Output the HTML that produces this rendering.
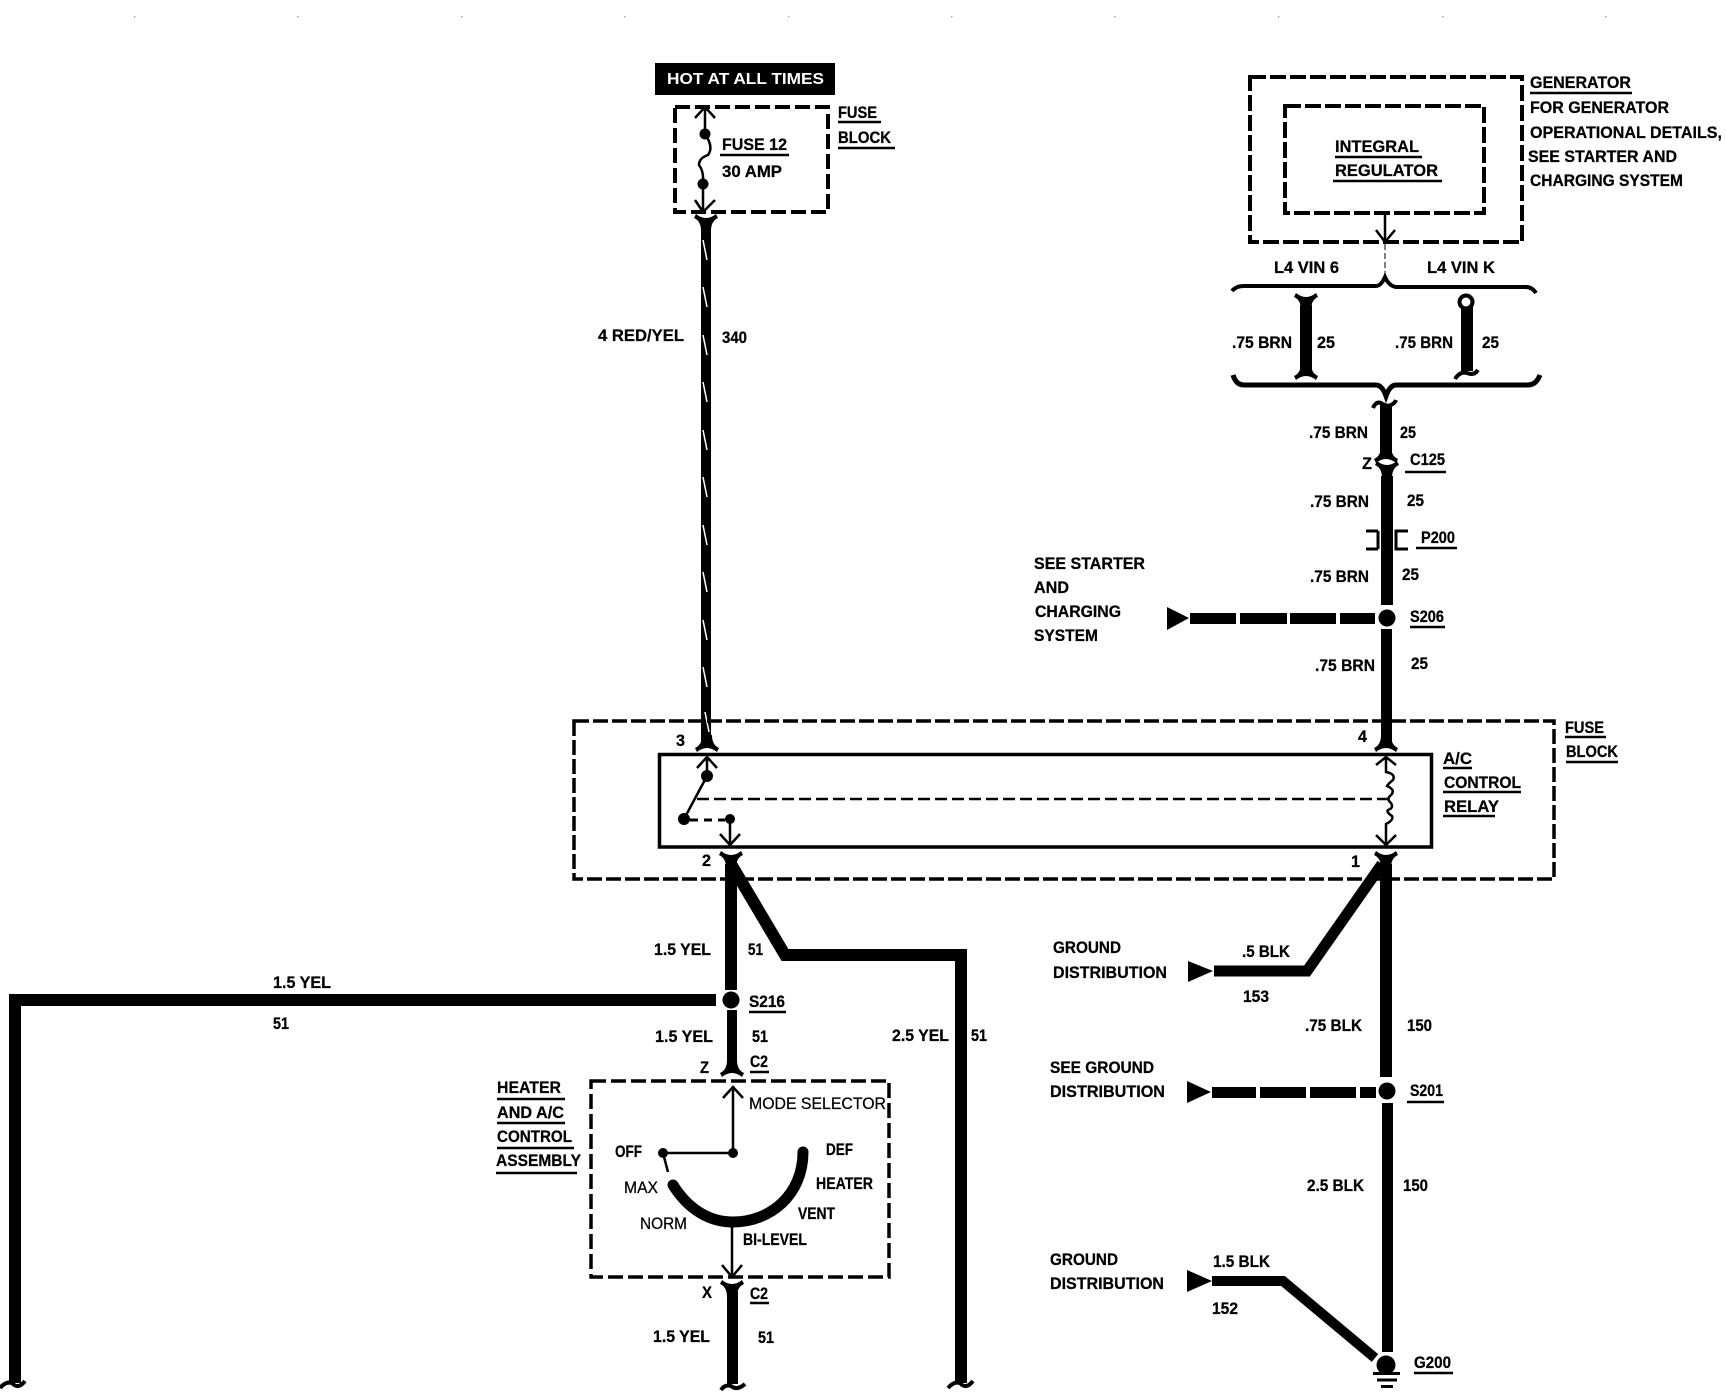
<!DOCTYPE html>
<html><head><meta charset="utf-8"><title>A/C Control Relay Wiring Diagram</title>
<style>
html,body{margin:0;padding:0;background:#fff}
svg{display:block}
text{font-family:"Liberation Sans",sans-serif;font-weight:700;font-size:16.5px;fill:#000;stroke:#000;stroke-width:.25px}
.r{font-weight:400}
.ln{fill:none;stroke:#000}
</style></head><body>
<svg width="1726" height="1392" viewBox="0 0 1726 1392" xmlns="http://www.w3.org/2000/svg">
<rect width="1726" height="1392" fill="#fff"/>
<defs>
<path id="ft" d="M-12 -6 Q-5 -3 -5 7 L5 7 Q5 -3 12 -6 L10 -10 Q0 -2 -10 -10 Z"/>
<path id="fb" d="M-12 6 Q-5 3 -5 -7 L5 -7 Q5 3 12 6 L10 10 Q0 2 -10 10 Z"/>
</defs>

<!-- top registration specks -->
<g fill="#aaa"><rect x="134" y="16" width="1.5" height="1.5"/><rect x="297" y="16" width="1.5" height="1.5"/><rect x="461" y="16" width="1.5" height="1.5"/><rect x="624" y="16" width="1.5" height="1.5"/><rect x="788" y="16" width="1.5" height="1.5"/><rect x="951" y="16" width="1.5" height="1.5"/><rect x="1114" y="16" width="1.5" height="1.5"/><rect x="1278" y="16" width="1.5" height="1.5"/><rect x="1442" y="16" width="1.5" height="1.5"/><rect x="1605" y="16" width="1.5" height="1.5"/></g>

<!-- HOT box -->
<rect x="655" y="63" width="180" height="32" fill="#000"/>
<text x="667" y="84" textLength="157" lengthAdjust="spacingAndGlyphs" style="fill:#fff;stroke:none;font-size:16px">HOT AT ALL TIMES</text>

<!-- Fuse box -->
<rect x="675" y="107" width="153" height="105" class="ln" stroke-width="4" stroke-dasharray="15 5"/>
<path d="M695 118 L705 107 L715 118 M705 107 V134 Q714 147 708 155 Q699 158 699 165 Q704 171 703 184 V212 M695 200 L703 212 L715 200" class="ln" stroke-width="2.5"/>
<circle cx="705" cy="134" r="5.5"/><circle cx="703" cy="184" r="5.5"/>
<use href="#ft" x="706" y="224"/>
<rect x="701" y="226" width="10" height="516"/>
<g class="ln" style="stroke:#fff" stroke-width="1.5">
<path d="M703 240 L707 260M703 287 L707 307M703 335 L707 355M703 382 L707 402M703 430 L707 450M703 477 L707 497M703 525 L707 545M703 572 L707 592M703 620 L707 640M703 667 L707 687M705 712 L709 732"/>
</g>
<use href="#fb" x="707" y="742"/>

<!-- Generator -->
<rect x="1250" y="77" width="272" height="165" class="ln" stroke-width="4" stroke-dasharray="16 4"/>
<rect x="1285" y="106" width="199" height="107" class="ln" stroke-width="4" stroke-dasharray="16 4"/>
<path d="M1385 213 V242 M1376 230 L1385 242 L1395 230" class="ln" stroke-width="2.5"/>
<path d="M1385 244 V277" class="ln" stroke-width="1" stroke-dasharray="6 3"/>
<path d="M1232 291 Q1236 286 1244 286 H1376 Q1381 286 1385 277 Q1389 286 1396 287 H1526 Q1532 287 1536 293" class="ln" stroke-width="4"/>
<path d="M1233 375 Q1236 385 1244 385 H1376 Q1382 385 1386 396 Q1390 385 1396 385 H1528 Q1536 385 1540 375" class="ln" stroke-width="5"/>
<use href="#ft" x="1306" y="303"/>
<rect x="1300" y="305" width="12" height="66"/>
<use href="#fb" x="1306" y="370"/>
<rect x="1461" y="305" width="12" height="66"/>
<circle cx="1466" cy="302" r="6.5" fill="#fff" stroke="#000" stroke-width="4"/>
<path d="M1455 379 Q1460 371 1467 373 Q1474 376 1478 370" class="ln" stroke-width="4"/>
<path d="M1373 408 Q1376 401 1381 403 Q1387 407 1391 405 Q1395 403 1396 400" class="ln" stroke-width="4"/>
<rect x="1380" y="405" width="12" height="47"/>
<use href="#fb" x="1386" y="453"/>
<use href="#ft" x="1387" y="471"/>
<rect x="1381" y="476" width="12" height="129"/>
<path d="M1378 531 H1366 M1378 531 V549 M1378 549 H1366 M1408 531 H1396 V549 H1408" class="ln" stroke-width="3"/>
<circle cx="1387" cy="618" r="8.5"/>
<rect x="1381" y="629" width="11" height="113"/>
<use href="#fb" x="1386" y="742"/>

<!-- S206 feed -->
<path d="M1167 607 V630 L1189 618 Z"/>
<rect x="1190" y="613" width="46" height="11"/><rect x="1240" y="613" width="47" height="11"/><rect x="1290" y="613" width="46" height="11"/><rect x="1340" y="613" width="35" height="11"/>

<!-- Fuse block & relay -->
<rect x="574" y="721" width="980" height="158" class="ln" stroke-width="3.5" stroke-dasharray="15 4"/>
<rect x="659.5" y="754.5" width="772" height="92.5" fill="#fff" stroke="#000" stroke-width="3.5"/>
<path d="M697 799 H1388" class="ln" stroke-width="2.5" stroke-dasharray="12 5"/>
<!-- switch -->
<path d="M697 768 L707 757 L717 768 M707 757 V776 L684 819" class="ln" stroke-width="2.5"/>
<circle cx="707" cy="776" r="6"/><circle cx="684" cy="819" r="6"/><circle cx="730" cy="819" r="5"/>
<path d="M690 820 H725" class="ln" stroke-width="3" stroke-dasharray="8 6"/>
<path d="M730 822 V845 M720 834 L730 845 L740 834" class="ln" stroke-width="2.5"/>
<!-- coil -->
<path d="M1376 765 L1386 757 L1396 765 M1386 757 V772 Q1396 774 1393 780 Q1388 784 1387 786 Q1396 790 1391 795 Q1386 799 1391 803 Q1394 808 1388 810 Q1386 812 1392 816 Q1394 820 1386 824 V845 M1376 835 L1386 845 L1396 835" class="ln" stroke-width="2.5"/>

<!-- below relay left -->
<use href="#ft" x="731" y="861"/>
<rect x="725" y="864" width="12" height="126"/>
<path d="M731 864 L785 955 H961 V1383" class="ln" stroke-width="12"/>
<circle cx="731" cy="1000" r="8.5"/>
<path d="M716 1000 H15 V1383" class="ln" stroke-width="12"/>
<path d="M0 1388 Q6 1381 12 1383 Q18 1390 25 1381" class="ln" stroke-width="4"/>
<path d="M948 1388 Q954 1381 960 1383 Q966 1390 973 1381" class="ln" stroke-width="4"/>
<rect x="727" y="1010" width="10" height="52"/>
<use href="#fb" x="732" y="1067"/>

<!-- Heater assembly -->
<rect x="591" y="1081" width="298" height="196" class="ln" stroke-width="3.5" stroke-dasharray="15 5"/>
<path d="M723 1098 L733 1087 L743 1098 M733 1087 V1153 H663 L668 1172" class="ln" stroke-width="2.5"/>
<circle cx="733" cy="1153" r="5"/><circle cx="663" cy="1153" r="5"/>
<path d="M673 1185 C690 1212 712 1222 733 1222 C770 1222 803 1195 803 1152" class="ln" stroke-width="11" stroke-linecap="round"/>
<path d="M732 1222 V1277 M722 1265 L732 1277 L742 1265" class="ln" stroke-width="2.5"/>
<use href="#ft" x="732" y="1290"/>
<rect x="727" y="1292" width="11" height="92"/>
<path d="M721 1390 Q725 1384 731 1386 Q737 1391 745 1384" class="ln" stroke-width="4"/>

<!-- Right side below relay -->
<use href="#ft" x="1386" y="861"/>
<rect x="1380" y="864" width="12" height="213"/>
<path d="M1382 864 L1307 971 H1214" class="ln" stroke-width="11"/>
<path d="M1188 961 V982 L1213 971 Z"/>
<circle cx="1387" cy="1091" r="8.5"/>
<path d="M1187 1081 V1103 L1211 1092 Z"/>
<rect x="1212" y="1087" width="44" height="11"/><rect x="1260" y="1087" width="46" height="11"/><rect x="1310" y="1087" width="46" height="11"/><rect x="1360" y="1087" width="16" height="11"/>
<rect x="1382" y="1103" width="11" height="249"/>
<path d="M1187 1270 V1292 L1212 1281 Z"/>
<path d="M1212 1281 H1283 L1375 1358" class="ln" stroke-width="10"/>
<circle cx="1386" cy="1365" r="9.5"/>
<path d="M1373 1373.500 H1400 M1377 1380 H1397 M1381 1386.500 H1393" class="ln" stroke-width="3"/>

<!-- underlines -->
<path d="M838 122 H881 M838 148 H895 M720 155 H789 M1530 93 H1632 M1335 157 H1422 M1333 181 H1442 M1405 472 H1446 M1416 548 H1457 M1410 627 H1445 M1443 768 H1472 M1443 792 H1521 M1443 816 H1495 M1565 737 H1606 M1566 762 H1618 M749 1012 H786 M750 1072 H769 M750 1303 H769 M497 1099 H565 M497 1123 H565 M497 1148 H574 M496 1173 H577 M1407 1102 H1444 M1414 1373 H1453" class="ln" stroke-width="2.5"/>

<!-- labels -->
<text x="838" y="118" textLength="39" lengthAdjust="spacingAndGlyphs">FUSE</text>
<text x="838" y="143" textLength="53" lengthAdjust="spacingAndGlyphs">BLOCK</text>
<text x="722" y="150" textLength="65" lengthAdjust="spacingAndGlyphs">FUSE 12</text>
<text x="722" y="177" textLength="60" lengthAdjust="spacingAndGlyphs">30 AMP</text>
<text x="598" y="341" textLength="86" lengthAdjust="spacingAndGlyphs">4 RED/YEL</text>
<text x="722" y="343" textLength="25" lengthAdjust="spacingAndGlyphs">340</text>

<text x="1530" y="88" textLength="101" lengthAdjust="spacingAndGlyphs">GENERATOR</text>
<text x="1530" y="113" textLength="139" lengthAdjust="spacingAndGlyphs">FOR GENERATOR</text>
<text x="1530" y="138" textLength="192" lengthAdjust="spacingAndGlyphs">OPERATIONAL DETAILS,</text>
<text x="1528" y="162" textLength="149" lengthAdjust="spacingAndGlyphs">SEE STARTER AND</text>
<text x="1530" y="186" textLength="153" lengthAdjust="spacingAndGlyphs">CHARGING SYSTEM</text>
<text x="1335" y="152" textLength="84" lengthAdjust="spacingAndGlyphs">INTEGRAL</text>
<text x="1335" y="176" textLength="103" lengthAdjust="spacingAndGlyphs">REGULATOR</text>
<text x="1274" y="273" textLength="65" lengthAdjust="spacingAndGlyphs">L4 VIN 6</text>
<text x="1427" y="273" textLength="68" lengthAdjust="spacingAndGlyphs">L4 VIN K</text>
<text x="1232" y="348" textLength="60" lengthAdjust="spacingAndGlyphs">.75 BRN</text>
<text x="1317" y="348" textLength="18" lengthAdjust="spacingAndGlyphs">25</text>
<text x="1395" y="348" textLength="58" lengthAdjust="spacingAndGlyphs">.75 BRN</text>
<text x="1482" y="348" textLength="17" lengthAdjust="spacingAndGlyphs">25</text>
<text x="1309" y="438" textLength="59" lengthAdjust="spacingAndGlyphs">.75 BRN</text>
<text x="1400" y="438" textLength="16" lengthAdjust="spacingAndGlyphs">25</text>
<text x="1362" y="469" textLength="10" lengthAdjust="spacingAndGlyphs">Z</text>
<text x="1410" y="465" textLength="35" lengthAdjust="spacingAndGlyphs">C125</text>
<text x="1310" y="507" textLength="59" lengthAdjust="spacingAndGlyphs">.75 BRN</text>
<text x="1407" y="506" textLength="17" lengthAdjust="spacingAndGlyphs">25</text>
<text x="1421" y="543" textLength="34" lengthAdjust="spacingAndGlyphs">P200</text>
<text x="1310" y="582" textLength="59" lengthAdjust="spacingAndGlyphs">.75 BRN</text>
<text x="1402" y="580" textLength="17" lengthAdjust="spacingAndGlyphs">25</text>
<text x="1034" y="569" textLength="111" lengthAdjust="spacingAndGlyphs">SEE STARTER</text>
<text x="1034" y="593" textLength="35" lengthAdjust="spacingAndGlyphs">AND</text>
<text x="1035" y="617" textLength="86" lengthAdjust="spacingAndGlyphs">CHARGING</text>
<text x="1034" y="641" textLength="64" lengthAdjust="spacingAndGlyphs">SYSTEM</text>
<text x="1410" y="622" textLength="34" lengthAdjust="spacingAndGlyphs">S206</text>
<text x="1315" y="671" textLength="60" lengthAdjust="spacingAndGlyphs">.75 BRN</text>
<text x="1411" y="669" textLength="17" lengthAdjust="spacingAndGlyphs">25</text>
<text x="1358" y="742" textLength="9" lengthAdjust="spacingAndGlyphs">4</text>
<text x="676" y="746" textLength="9" lengthAdjust="spacingAndGlyphs">3</text>
<text x="702" y="866" textLength="9" lengthAdjust="spacingAndGlyphs">2</text>
<text x="1351" y="867" textLength="9" lengthAdjust="spacingAndGlyphs">1</text>
<text x="1443" y="764" textLength="29" lengthAdjust="spacingAndGlyphs">A/C</text>
<text x="1444" y="788" textLength="77" lengthAdjust="spacingAndGlyphs">CONTROL</text>
<text x="1444" y="812" textLength="55" lengthAdjust="spacingAndGlyphs">RELAY</text>
<text x="1565" y="733" textLength="39" lengthAdjust="spacingAndGlyphs">FUSE</text>
<text x="1566" y="757" textLength="52" lengthAdjust="spacingAndGlyphs">BLOCK</text>

<text x="654" y="955" textLength="57" lengthAdjust="spacingAndGlyphs">1.5 YEL</text>
<text x="748" y="955" textLength="15" lengthAdjust="spacingAndGlyphs">51</text>
<text x="273" y="988" textLength="58" lengthAdjust="spacingAndGlyphs">1.5 YEL</text>
<text x="273" y="1029" textLength="16" lengthAdjust="spacingAndGlyphs">51</text>
<text x="749" y="1007" textLength="36" lengthAdjust="spacingAndGlyphs">S216</text>
<text x="655" y="1042" textLength="58" lengthAdjust="spacingAndGlyphs">1.5 YEL</text>
<text x="752" y="1042" textLength="16" lengthAdjust="spacingAndGlyphs">51</text>
<text x="892" y="1041" textLength="57" lengthAdjust="spacingAndGlyphs">2.5 YEL</text>
<text x="971" y="1041" textLength="16" lengthAdjust="spacingAndGlyphs">51</text>
<text x="700" y="1073" textLength="9" lengthAdjust="spacingAndGlyphs">Z</text>
<text x="750" y="1067" textLength="18" lengthAdjust="spacingAndGlyphs">C2</text>
<text x="749" y="1109" textLength="137" lengthAdjust="spacingAndGlyphs" class="r">MODE SELECTOR</text>
<text x="615" y="1157" textLength="27" lengthAdjust="spacingAndGlyphs">OFF</text>
<text x="826" y="1155" textLength="27" lengthAdjust="spacingAndGlyphs">DEF</text>
<text x="816" y="1189" textLength="57" lengthAdjust="spacingAndGlyphs">HEATER</text>
<text x="798" y="1219" textLength="37" lengthAdjust="spacingAndGlyphs">VENT</text>
<text x="743" y="1245" textLength="64" lengthAdjust="spacingAndGlyphs">BI-LEVEL</text>
<text x="624" y="1193" textLength="34" lengthAdjust="spacingAndGlyphs" class="r">MAX</text>
<text x="640" y="1229" textLength="47" lengthAdjust="spacingAndGlyphs" class="r">NORM</text>
<text x="497" y="1093" textLength="64" lengthAdjust="spacingAndGlyphs">HEATER</text>
<text x="497" y="1118" textLength="67" lengthAdjust="spacingAndGlyphs">AND A/C</text>
<text x="497" y="1142" textLength="75" lengthAdjust="spacingAndGlyphs">CONTROL</text>
<text x="496" y="1166" textLength="85" lengthAdjust="spacingAndGlyphs">ASSEMBLY</text>
<text x="702" y="1298" textLength="10" lengthAdjust="spacingAndGlyphs">X</text>
<text x="750" y="1299" textLength="18" lengthAdjust="spacingAndGlyphs">C2</text>
<text x="653" y="1342" textLength="57" lengthAdjust="spacingAndGlyphs">1.5 YEL</text>
<text x="758" y="1343" textLength="16" lengthAdjust="spacingAndGlyphs">51</text>

<text x="1053" y="953" textLength="68" lengthAdjust="spacingAndGlyphs">GROUND</text>
<text x="1053" y="978" textLength="114" lengthAdjust="spacingAndGlyphs">DISTRIBUTION</text>
<text x="1242" y="957" textLength="48" lengthAdjust="spacingAndGlyphs">.5 BLK</text>
<text x="1243" y="1002" textLength="26" lengthAdjust="spacingAndGlyphs">153</text>
<text x="1305" y="1031" textLength="57" lengthAdjust="spacingAndGlyphs">.75 BLK</text>
<text x="1407" y="1031" textLength="25" lengthAdjust="spacingAndGlyphs">150</text>
<text x="1050" y="1073" textLength="104" lengthAdjust="spacingAndGlyphs">SEE GROUND</text>
<text x="1050" y="1097" textLength="115" lengthAdjust="spacingAndGlyphs">DISTRIBUTION</text>
<text x="1410" y="1096" textLength="33" lengthAdjust="spacingAndGlyphs">S201</text>
<text x="1307" y="1191" textLength="57" lengthAdjust="spacingAndGlyphs">2.5 BLK</text>
<text x="1403" y="1191" textLength="25" lengthAdjust="spacingAndGlyphs">150</text>
<text x="1050" y="1265" textLength="68" lengthAdjust="spacingAndGlyphs">GROUND</text>
<text x="1050" y="1289" textLength="114" lengthAdjust="spacingAndGlyphs">DISTRIBUTION</text>
<text x="1213" y="1267" textLength="57" lengthAdjust="spacingAndGlyphs">1.5 BLK</text>
<text x="1212" y="1314" textLength="26" lengthAdjust="spacingAndGlyphs">152</text>
<text x="1414" y="1368" textLength="37" lengthAdjust="spacingAndGlyphs">G200</text>
</svg>
</body></html>
